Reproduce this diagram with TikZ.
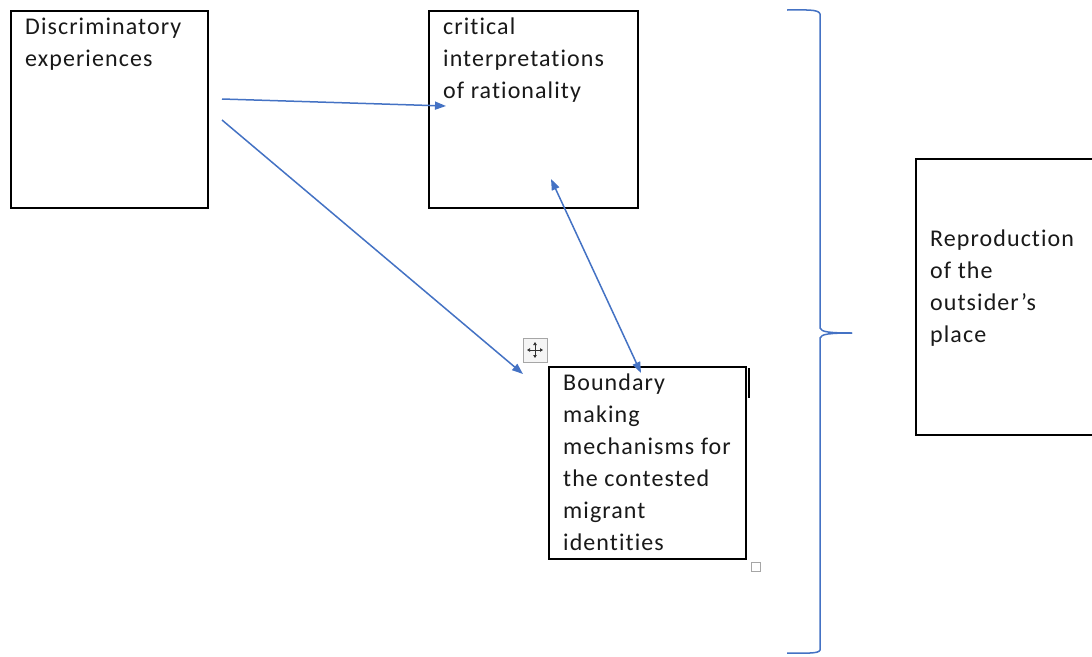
\documentclass[tikz,border=0pt]{standalone}
\usepackage{fontspec}
\setmainfont[LetterSpace=4.5,Ligatures={NoCommon}]{Carlito}
\usetikzlibrary{arrows.meta,calc}
\definecolor{wordblue}{HTML}{4472C4}
\tikzset{
  box/.style={draw=black, line width=1.6pt, inner sep=0pt, anchor=north west},
  txt/.style={inner sep=0pt, anchor=north west, align=left, font=\fontsize{24}{32}\selectfont, text=black!90},
  link/.style={draw=wordblue, line width=1.5pt, -{Triangle[length=11pt,width=8pt]}},
  dlink/.style={draw=wordblue, line width=1.5pt, {Triangle[length=11pt,width=8pt]}-{Triangle[length=11pt,width=8pt]}},
  brace/.style={draw=wordblue, line width=1.5pt}
}
\begin{document}
\begin{tikzpicture}[x=1pt,y=-1pt]
\clip (0,0) rectangle (1092,656);
\fill[white] (0,0) rectangle (1092,656);
% boxes
\node[box, minimum width=197pt, minimum height=197pt] (A) at (10,10) {};
\node[box, minimum width=209pt, minimum height=197pt] (B) at (428,10) {};
\node[box, minimum width=197pt, minimum height=192pt] (C) at (548,366) {};
\node[box, minimum width=200pt, minimum height=276pt] (D) at (915,158) {};
% texts
\node[txt] (At) at (25,18) {Discriminatory\\experiences};
\node[txt] (Bt) at (443,18) {critical\\interpretations\\of rationality};
\node[txt] (Ct) at (563,374) {Boundary\\making\\mechanisms for\\the contested\\migrant\\identities};
\node[txt] (Dt) at (930,230) {Reproduction\\of the\\outsider’s\\place};
% connector ends
\coordinate (a1) at (222,99);
\coordinate (b1) at (446,106);
\coordinate (a2) at (222,120);
\coordinate (c1) at (523,374);
\coordinate (b2) at (551,179);
\coordinate (c2) at (641,373);
\draw[link] (a1) -- (b1);
\draw[link] (a2) -- (c1);
\draw[dlink] (b2) -- (c2);
% brace
\coordinate (bt) at (787,10);
\coordinate (bm) at (852,333);
\coordinate (bb) at (787,653);
\draw[brace] (bt) .. controls (805,10) and (819,9) .. (820,14) -- (820,328) .. controls (821,332) and (830,333) .. (bm);
\draw[brace] (bm) .. controls (830,333) and (821,334) .. (820,338) -- (820,650) .. controls (819,654) and (805,653) .. (bb);
% word UI artefacts
\node[draw=gray!70, fill=gray!8, line width=0.8pt, minimum size=24pt, inner sep=0pt] (mv) at (535,350) {};
\draw[black!80, line width=0.9pt, {Triangle[length=3pt,width=3.5pt]}-{Triangle[length=3pt,width=3.5pt]}] ($(mv)+(-8,0)$) -- ($(mv)+(8,0)$);
\draw[black!80, line width=0.9pt, {Triangle[length=3pt,width=3.5pt]}-{Triangle[length=3pt,width=3.5pt]}] ($(mv)+(0,-8)$) -- ($(mv)+(0,8)$);
\node[draw=gray!70, fill=white, line width=0.8pt, minimum size=9pt, inner sep=0pt] (hd) at (755.5,566.5) {};
\coordinate (cu1) at (749,368);
\coordinate (cu2) at (749,398);
\draw[black, line width=2pt] (cu1) -- (cu2);
\end{tikzpicture}
\end{document}
